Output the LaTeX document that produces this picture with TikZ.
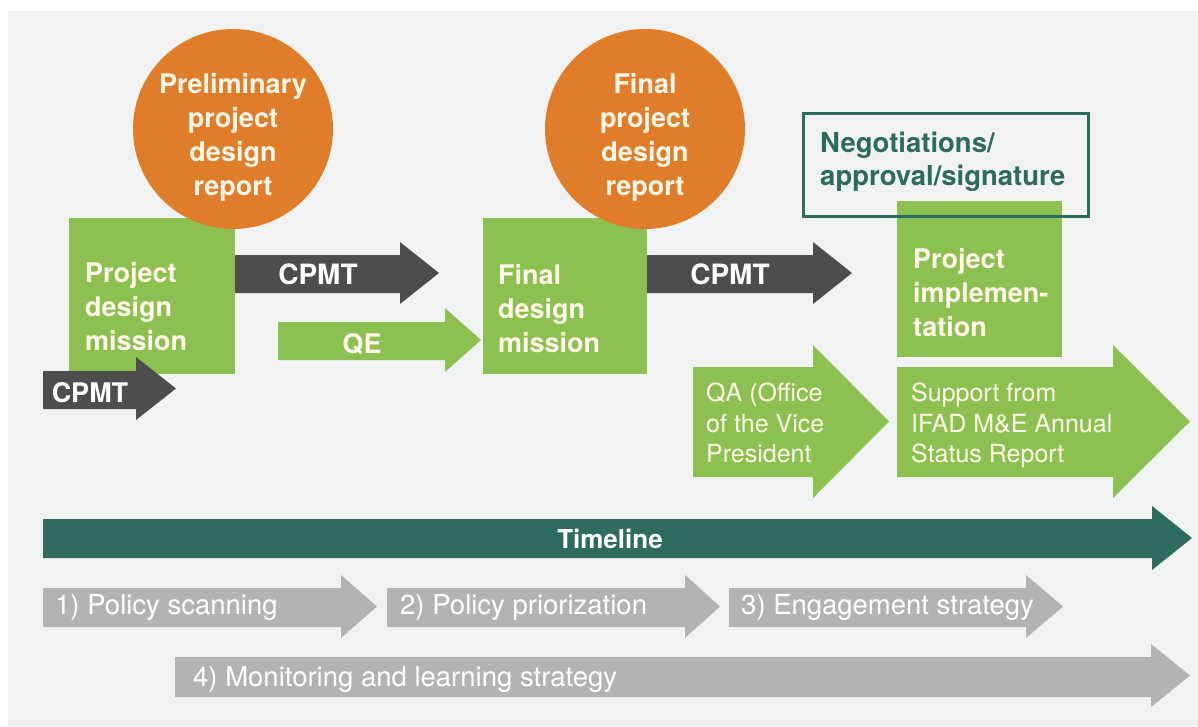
\documentclass[tikz,border=0pt]{standalone}
\usepackage{fontspec}
\setmainfont{TeX Gyre Heros}
\definecolor{bgc}{HTML}{F1F2F2}
\definecolor{grn}{HTML}{8CC152}
\definecolor{org}{HTML}{E07D2A}
\definecolor{dgr}{HTML}{4D4D4F}
\definecolor{tealc}{HTML}{2D6B5F}
\definecolor{lgr}{HTML}{B3B3B3}
\definecolor{cream}{HTML}{FFF7E8}
% #1 colour, #2 x start, #3 x head base, #4 x tip, #5 y top, #6 y bottom, #7 head top, #8 head bottom
\newcommand\blockarrow[8]{%
  \fill[#1] (#2,#5) -- (#3,#5) -- (#3,#7) -- (#4,{(#7+#8)/2}) -- (#3,#8) -- (#3,#6) -- (#2,#6) -- cycle;}
\begin{document}
\begin{tikzpicture}[x=1pt,y=-1pt,
  gbox/.style={fill=grn, draw=none, inner sep=0pt, rectangle},
  obox/.style={fill=org, draw=none, inner sep=0pt, circle, minimum size=200pt},
  btxt/.style={font=\fontsize{27}{34}\selectfont\bfseries, inner sep=0pt, text=cream, align=left},
  ctxt/.style={font=\fontsize{27}{34}\selectfont\bfseries, inner sep=0pt, text=cream, align=center},
  rtxt/.style={font=\fontsize{25}{30.5}\selectfont, inner sep=0pt, text=cream, align=left},
  atxt/.style={font=\fontsize{28}{34}\selectfont\bfseries, inner sep=0pt, text=white},
  gtxt/.style={font=\fontsize{27.5}{30}\selectfont, inner sep=0pt, text=white}]
\useasboundingbox (0,0) rectangle (1198,726);
\fill[white] (0,0) rectangle (1198,726);
\fill[bgc] (8,11) rectangle (1198,726);
% green boxes
\node[gbox, minimum width=166pt, minimum height=156pt] (box1) at (152,296) {};
\node[gbox, minimum width=164pt, minimum height=156pt] (box2) at (565,296) {};
\node[gbox, minimum width=165pt, minimum height=156pt] (box3) at (979.5,279) {};
% teal outline
\node[draw=tealc, line width=3pt, minimum width=285pt, minimum height=103pt, inner sep=0pt] (neg) at (946,165) {};
% circles
\node[obox] (c1) at (233,129) {};
\node[obox] (c2) at (645,129) {};
% arrows
\blockarrow{dgr}{43}{136}{176}{371}{409}{357}{420}
\blockarrow{dgr}{235}{400}{439}{255}{293}{242}{304}
\blockarrow{grn}{278}{445}{481}{322}{360}{308}{372}
\blockarrow{dgr}{647}{813}{852}{255}{293}{242}{304}
\blockarrow{grn}{693}{813}{889}{367}{477}{345}{498}
\blockarrow{grn}{897}{1113}{1190}{367}{477}{345}{498}
\blockarrow{tealc}{43}{1152}{1192}{519}{558}{506}{570}
\blockarrow{lgr}{43}{341}{377}{588}{627}{575}{638}
\blockarrow{lgr}{387}{685}{720}{588}{627}{575}{638}
\blockarrow{lgr}{729}{1026}{1063}{588}{627}{575}{638}
\blockarrow{lgr}{175}{1151}{1190}{657}{697}{644}{707}
% texts
\node[btxt, anchor=north west] (t1) at (85,262) {Project\\design\\mission};
\node[btxt, anchor=north west] (t2) at (498,264) {Final\\design\\mission};
\node[btxt, anchor=north west] (t3) at (913,248) {Project\\implemen-\\tation};
\node[btxt, text=tealc, font=\fontsize{27.5}{33}\selectfont\bfseries, anchor=north west] (t4) at (820,132) {Negotiations/\\approval/signature};
\node[ctxt, anchor=north] (tc1) at (233,73) {Preliminary\\project\\design\\report};
\node[ctxt, anchor=north] (tc2) at (645,73) {Final\\project\\design\\report};
\node[atxt, anchor=base] (l1) at (318,284) {CPMT};
\node[atxt, anchor=base] (l2) at (730,284) {CPMT};
\node[atxt, font=\fontsize{27}{34}\selectfont\bfseries, anchor=base] (l3) at (90,402) {CPMT};
\node[atxt, font=\fontsize{27}{34}\selectfont\bfseries, text=cream, anchor=base] (l4) at (362,353) {QE};
\node[rtxt, anchor=north west] (qa) at (706,383) {QA (Office\\of the Vice\\President};
\node[rtxt, anchor=north west] (sup) at (911,383) {Support from\\IFAD M\&E Annual\\Status Report};
\node[atxt, font=\fontsize{26}{30}\selectfont\bfseries, anchor=base] (tl) at (610,548) {Timeline};
\node[gtxt, anchor=base west] (g1) at (55,614) {1) Policy scanning};
\node[gtxt, anchor=base west] (g2) at (400,614) {2) Policy priorization};
\node[gtxt, anchor=base west] (g3) at (741,614) {3) Engagement strategy};
\node[gtxt, anchor=base west] (g4) at (193,686) {4) Monitoring and learning strategy};
\end{tikzpicture}
\end{document}
